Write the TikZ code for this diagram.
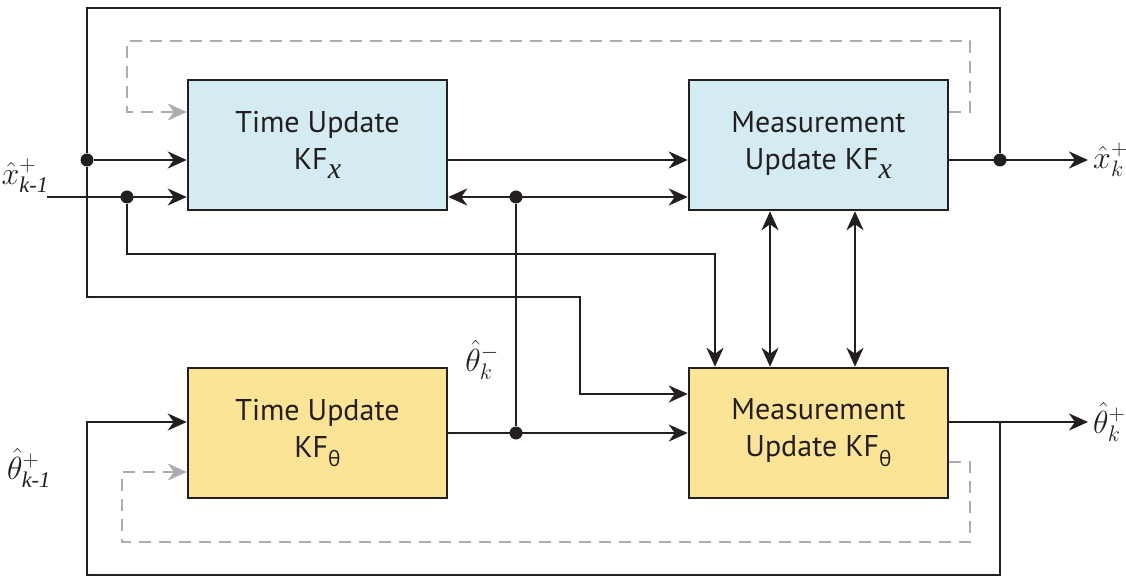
\RequirePackage{fix-cm}
\documentclass[tikz,border=0pt]{standalone}
\usepackage{amsmath}
\usepackage{fontspec}
\setmainfont{PT Sans}
\newfontfamily\grkfont{Open Sans}
\newfontfamily\serifit{Liberation Serif}[ItalicFont={Liberation Serif Italic}]
\usetikzlibrary{arrows.meta,positioning,calc}

\definecolor{boxblue}{RGB}{212,235,242}
\definecolor{boxyellow}{RGB}{252,228,150}
\definecolor{ink}{RGB}{35,31,32}
\definecolor{fbgray}{RGB}{172,172,176}

\newcommand{\subk}[1]{\text{\serifit\itshape #1}}
\newcommand{\kfx}{KF\raisebox{-0.3em}{\fontsize{30}{30}\selectfont\serifit\itshape x}}
\newcommand{\kft}{KF\raisebox{-0.33em}{\fontsize{21}{21}\selectfont\grkfont θ}}

\tikzset{
  blk/.style={draw=ink,line width=2.5pt,minimum width=259pt,minimum height=130pt,
    align=center,inner sep=0pt,text=ink,font=\fontsize{30}{37}\selectfont},
  xbox/.style={blk,fill=boxblue},
  tbox/.style={blk,fill=boxyellow},
  wire/.style={draw=ink,line width=2.3pt},
  sig/.style={wire,-{Stealth[length=19pt,width=17pt,inset=6pt]}},
  bisig/.style={wire,{Stealth[length=19pt,width=17pt,inset=6pt]}-{Stealth[length=19pt,width=17pt,inset=6pt]}},
  fb/.style={draw=fbgray,line width=2pt,dash pattern=on 12pt off 8pt,
    -{Stealth[length=19pt,width=17pt,inset=6pt]}},
  jdot/.style={circle,fill=ink,inner sep=0pt,minimum size=13pt},
  lbl/.style={text=ink,inner sep=1pt,font=\fontsize{32}{32}\selectfont}
}

\begin{document}
\begin{tikzpicture}[x=1pt,y=-1pt]
\useasboundingbox (0,0) rectangle (1126,577);

% blocks
\node[xbox] (tux) at (317.5,145) {Time Update\\\kfx};
\node[xbox] (mux) at (818.5,145) {Measurement\\Update \kfx};
\node[tbox] (tut) at (317.5,433) {Time Update\\\kft};
\node[tbox] (mut) at (818.5,433) {Measurement\\Update \kft};

% junctions and free ends
\node[jdot] (jtop) at (87,160) {};
\node[jdot] (jin) at (127,197) {};
\node[jdot] (jmid) at (516,197) {};
\node[jdot] (jlow) at (516,433) {};
\node[jdot] (jout) at (1000,160) {};
\coordinate (xin) at (47,197);
\coordinate (xout) at (1088,160);
\coordinate (tout) at (1088,422);

% labels
\node[lbl] (lxin) at (25,176) {$\hat{x}^{+}_{\subk{k-1}}$};
\node[lbl] (ltin) at (29,468) {$\hat{\theta}^{+}_{\subk{k-1}}$};
\node[lbl] (ltmid) at (482,360) {$\hat{\theta}^{-}_{k}$};
\node[lbl,right=4pt of xout] (lxout) {$\hat{x}^{+}_{k}$};
\node[lbl,right=4pt of tout] (ltout) {$\hat{\theta}^{+}_{k}$};

% x filter
\draw[sig] (jtop) -- (tux.west |- jtop);
\draw[sig] (xin) -- (tux.west |- xin);
\draw[sig] (tux.east |- jtop) -- (mux.west |- jtop);
\draw[bisig] (tux.east |- jmid) -- (mux.west |- jmid);
\draw[wire] (jmid) -- (jlow);
\draw[sig] (mux.east |- jout) -- (xout);
\draw[wire] (jout) -- (1000,8) -| (jtop);
\draw[sig] (jtop) -- (87,297) -| (580,394) -- (mut.west |- 0,394);
\draw[sig] (jin) |- (715,254) -- (mut.north -| 715,0);

% coupling between measurement updates
\draw[bisig] (mux.south -| 770,0) -- (mut.north -| 770,0);
\draw[bisig] (mux.south -| 855,0) -- (mut.north -| 855,0);

% theta filter
\draw[sig] (tut.east) -- (mut.west);
\draw[sig] (mut.east |- tout) -- (tout);
\draw[sig] (1000,422) |- (87,575) |- (tut.west |- 0,422);

% feedback (dashed)
\draw[fb] (mux.east |- 0,112) -| (970,41) -| (127,112) -- (tux.west |- 0,112);
\draw[fb] (mut.east |- 0,462) -| (970,542) -| (122,472) -- (tut.west |- 0,472);
\end{tikzpicture}
\end{document}
